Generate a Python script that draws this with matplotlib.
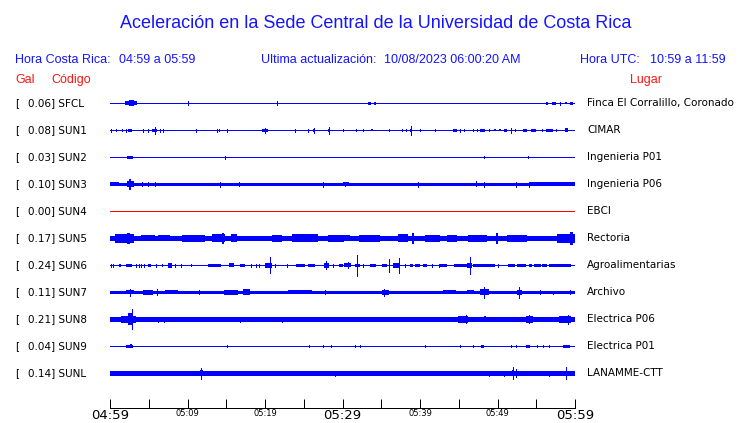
import matplotlib
matplotlib.use("Agg")
import matplotlib.pyplot as plt

# station list (top to bottom)
codes = ["SFCL", "SUN1", "SUN2", "SUN3", "SUN4", "SUN5", "SUN6", "SUN7", "SUN8", "SUN9", "SUNL"]
peak_gal = [0.06, 0.08, 0.03, 0.10, 0.00, 0.17, 0.24, 0.11, 0.21, 0.04, 0.14]
places = ["Finca El Corralillo, Coronado", "CIMAR", "Ingenieria P01", "Ingenieria P06", "EBCI",
          "Rectoria", "Agroalimentarias", "Archivo", "Electrica P06", "Electrica P01", "LANAMME-CTT"]

# background trace half-width (screen px)
base_amp = [0.5, 0.5, 0.5, 1.5, 0.5, 2.3, 0.5, 1.3, 1.7, 0.5, 1.6]

# bursts: (minute after 04:59, duration in minutes, half-amplitude px); duration 0 = single spike
sfcl_ev = [(2.7, 1.5, 2.0), (2.8, 0.6, 3.0), (10.1, 0, 2.0), (21.5, 0, 1.8), (33.5, 0.3, 1.5),
           (34.2, 0.3, 1.5), (56.4, 0.2, 1.3), (57.3, 0.6, 1.5), (58.1, 0, 1.5), (58.8, 0.3, 1.2),
           (59.5, 0.4, 1.5)]
sun1_ev = [(0.1, 0, 1.3), (0.8, 0.15, 1.3), (1.6, 0.15, 1.5), (2.0, 0, 1.3), (2.6, 0.6, 1.7),
           (4.2, 0, 1.3), (4.9, 0, 1.3), (5.8, 0.65, 1.7), (5.8, 0, 3.3), (6.4, 0, 1.3), (6.9, 0, 1.3),
           (11.05, 0, 1.3), (13.8, 0, 1.3), (14.1, 0.15, 1.3), (15.05, 0, 1.3), (20.0, 0.7, 1.7),
           (20.0, 0, 2.7), (23.9, 0, 1.3), (25.5, 0, 1.3), (26.3, 0.2, 1.5), (26.3, 0, 2.7),
           (28.3, 0.3, 1.5), (28.3, 0, 3.3), (30.0, 0, 1.2), (31.8, 0, 1.2), (32.7, 0, 1.2),
           (33.8, 0.3, 1.2), (36.0, 0, 1.2), (37.7, 0, 1.2), (38.15, 0, 1.2), (38.8, 0.2, 1.7),
           (38.8, 0, 4.7), (40.0, 0, 1.2), (42.0, 0.2, 1.5), (44.5, 0.45, 1.7), (45.2, 0, 1.3),
           (45.7, 0.15, 1.3), (46.9, 0, 1.2), (47.3, 0, 1.2), (48.1, 0.7, 1.7), (48.9, 0, 1.2),
           (49.7, 0.2, 1.2), (50.3, 0.2, 1.2), (51.0, 0.35, 1.5), (51.8, 0, 2.7), (52.2, 0, 1.2),
           (53.5, 0.5, 1.5), (54.7, 0.65, 1.5), (55.7, 0, 1.2), (56.7, 1.0, 1.7), (57.6, 0, 1.2),
           (58.9, 0.5, 2.0)]
sun2_ev = [(2.6, 0.8, 1.4), (14.9, 0, 1.3), (48.2, 0, 1.0), (53.9, 0, 1.0)]
sun3_ev = [(0.6, 1.2, 2.0), (2.6, 0.9, 2.8), (2.6, 0.2, 5.3), (4.1, 0, 2.0), (4.9, 0, 2.0),
           (5.8, 0, 2.0), (14.2, 0, 2.3), (16.7, 0.2, 2.5), (27.5, 0, 2.3), (30.3, 0, 2.0),
           (30.5, 0.8, 2.0), (39.7, 0, 2.3), (47.3, 0.2, 3.0), (48.2, 0, 2.5), (52.4, 0, 2.3),
           (54.0, 0, 2.3), (57.0, 6.0, 2.0)]
sun4_ev = []
sun5_ev = [(1.9, 2.4, 4.5), (2.4, 0.3, 5.7), (3.4, 0.6, 2.7), (4.9, 1.7, 3.0), (7.0, 1.5, 3.0),
           (10.75, 3.0, 3.7), (14.0, 1.7, 4.0), (14.6, 0.2, 5.7), (16.0, 0.9, 4.0), (17.8, 1.7, 2.3),
           (21.5, 1.3, 3.3), (25.2, 3.4, 4.0), (29.2, 2.1, 3.3), (30.3, 1.3, 3.0), (33.5, 2.8, 3.3),
           (37.8, 1.3, 4.0), (39.1, 0.3, 5.7), (41.6, 1.9, 3.3), (44.1, 1.3, 3.3), (47.4, 2.4, 3.7),
           (49.9, 0.2, 5.3), (52.5, 2.6, 3.3), (56.0, 0.9, 2.7), (58.9, 2.4, 4.5), (59.6, 0.4, 6.7)]
sun6_ev = [(0.1, 0, 1.3), (0.4, 0, 1.3), (1.3, 0.15, 1.3), (2.4, 0.8, 1.3), (3.3, 0, 1.3),
           (3.7, 0, 1.3), (4.0, 0, 1.3), (4.4, 0, 1.3), (5.1, 0.5, 1.3), (5.9, 0, 1.3),
           (6.75, 0.2, 1.3), (7.7, 0.5, 2.5), (8.4, 0, 1.3), (9.2, 0, 1.3), (10.5, 0.15, 1.3),
           (13.5, 1.7, 1.7), (15.7, 0.7, 2.0), (17.1, 0.6, 1.5), (18.15, 0, 1.3), (18.8, 0, 1.3),
           (19.2, 0, 1.3), (20.4, 0.9, 2.3), (20.7, 0, 8.0), (21.3, 0, 1.3), (22.9, 0, 1.3),
           (24.6, 1.1, 1.5), (26.0, 0.9, 1.5), (27.9, 0.7, 2.7), (27.9, 0, 4.0), (28.8, 0, 1.3),
           (29.8, 0.6, 1.5), (30.7, 0.9, 2.0), (30.7, 0, 3.0), (31.9, 0.7, 1.5), (31.9, 0, 10.5),
           (32.6, 0, 1.3), (33.9, 0.8, 1.5), (35.4, 0.6, 1.5), (36.0, 0, 6.5), (37.0, 0.9, 2.3),
           (37.3, 0, 7.3), (38.0, 0, 1.3), (38.9, 0.4, 1.5), (39.7, 0.6, 1.5), (40.7, 0.5, 1.5),
           (41.6, 0, 1.3), (42.4, 0, 1.3), (43.0, 0.9, 1.5), (45.3, 1.8, 1.7), (46.4, 0.6, 2.7),
           (46.5, 0, 8.3), (48.3, 2.8, 1.7), (50.1, 0, 1.3), (51.8, 0.9, 1.5), (53.1, 1.1, 1.5),
           (54.3, 0.4, 1.5), (55.1, 0.9, 1.5), (56.1, 0.6, 1.5), (58.1, 2.8, 1.7)]
sun7_ev = [(1.0, 1.5, 1.6), (2.6, 1.1, 2.0), (2.6, 0, 3.3), (4.95, 1.3, 2.3), (6.0, 0, 3.0),
           (7.96, 1.7, 2.0), (11.5, 0, 1.8), (15.6, 1.9, 2.3), (17.6, 0.9, 3.0), (24.5, 3.0, 1.8),
           (27.7, 0, 2.0), (35.5, 0.9, 2.3), (35.3, 0, 3.3), (43.8, 1.7, 2.0), (46.5, 0.9, 2.0),
           (48.3, 1.1, 3.0), (48.3, 0, 5.3), (52.8, 0.6, 2.7), (52.8, 0, 5.3), (55.5, 0, 2.0),
           (57.2, 0, 1.7), (59.4, 0, 2.0)]
sun8_ev = [(2.4, 1.9, 3.3), (2.6, 0.6, 6.0), (2.9, 0, 10.0), (6.2, 0, 2.3), (6.97, 0, 2.5),
           (9.7, 0, 2.0), (10.3, 0, 2.0), (10.9, 0, 2.0), (11.4, 0, 2.0), (12.8, 0, 2.0),
           (14.4, 0, 2.2), (16.8, 0, 2.7), (18.5, 0, 2.0), (22.2, 0, 2.3), (25.6, 0.5, 2.7),
           (26.5, 0, 2.0), (27.95, 0, 2.0), (28.6, 0, 2.0), (29.8, 0.4, 2.7), (30.1, 0, 2.0),
           (30.7, 0, 2.0), (31.6, 0, 2.0), (32.5, 0, 2.0), (34.4, 0, 2.0), (35.0, 0, 2.0),
           (37.5, 0.3, 2.3), (39.8, 0, 2.0), (42.5, 0.3, 2.3), (43.5, 0.4, 2.7), (45.6, 1.3, 3.3),
           (45.9, 0, 4.0), (46.2, 0, 2.0), (47.5, 0.3, 2.3), (48.4, 0.3, 3.0), (50.3, 0, 2.0),
           (50.8, 0, 2.0), (52.3, 1.1, 2.7), (54.1, 0.9, 3.3), (54.1, 0, 4.0), (54.8, 0, 2.0),
           (55.7, 0, 2.0), (56.8, 0, 2.0), (57.2, 0, 2.0), (58.7, 1.5, 3.3), (59.1, 0, 4.3)]
sun9_ev = [(2.5, 1.0, 1.3), (2.7, 0.3, 2.0), (15.05, 0, 1.0), (25.7, 0, 1.2), (27.5, 0, 1.0),
           (28.5, 0, 1.2), (31.6, 0, 1.0), (32.2, 0, 1.0), (40.6, 0, 1.0), (45.1, 0, 1.2),
           (46.8, 0, 1.2), (48.1, 0.4, 1.3), (51.8, 0, 1.2), (52.4, 0, 1.0), (53.9, 0.5, 1.3),
           (55.1, 0, 1.0), (55.9, 0, 1.0), (56.6, 0, 1.0), (58.9, 0.9, 1.3)]
sunl_ev = [(2.45, 0.2, 2.4), (4.7, 0, 1.8), (6.9, 0, 1.8), (11.8, 0.3, 3.0), (11.8, 0, 5.7),
           (29.0, 0, 2.3), (48.9, 0, 2.3), (50.9, 0, 2.3), (52.0, 0.2, 3.0), (52.0, 0, 6.0),
           (52.4, 0, 4.0), (56.6, 0, 2.3), (58.9, 0, 6.0)]
events = [sfcl_ev, sun1_ev, sun2_ev, sun3_ev, sun4_ev, sun5_ev, sun6_ev, sun7_ev, sun8_ev, sun9_ev, sunl_ev]

tick_labels = ["04:59", "05:09", "05:19", "05:29", "05:39", "05:49", "05:59"]

W, H = 740, 423
fig = plt.figure(figsize=(W / 100, H / 100), dpi=100)
PX = 0.72  # one pixel in points


def ftext(x, y, s, **kw):
    # place text by pixel coords of the 740x423 canvas
    fig.text(x / W, 1 - y / H, s, **kw)


head = dict(family="Liberation Sans", color="#1414ff", va="center")
ftext(376, 23, "Aceleración en la Sede Central de la Universidad de Costa Rica", fontsize=13, ha="center", **head)
ftext(15, 60, "Hora Costa Rica:", fontsize=9, **head)
ftext(119, 60, "04:59 a 05:59", fontsize=9, **head)
ftext(261, 60, "Ultima actualización:", fontsize=9, **head)
ftext(384, 60, "10/08/2023 06:00:20 AM", fontsize=9, **head)
ftext(580, 60, "Hora UTC:", fontsize=9, **head)
ftext(650, 60, "10:59 a 11:59", fontsize=9, **head)
red = dict(family="Liberation Sans", color="#ff1414", va="center", fontsize=9)
ftext(15, 80, "Gal", **red)
ftext(51, 80, "Código", **red)
ftext(630, 80, "Lugar", **red)

ax = fig.add_axes([110 / W, 15 / H, 465 / W, 318 / H])
ax.set_xlim(0, 60)
ax.set_ylim(408, 90)   # y in screen pixels, top row first

for i, code in enumerate(codes):
    yc = 103.3 + 27 * i
    col = "#ff0000" if peak_gal[i] == 0 else "#0000ff"
    ax.hlines(yc, 0, 60, color=col, lw=2 * base_amp[i] * PX, antialiased=False)
    for t, dur, amp in events[i]:
        if dur == 0:
            ax.vlines(t, yc - amp, yc + amp, color=col, lw=PX, antialiased=False)
        else:
            ax.bar(t, 2 * amp, width=dur, bottom=yc - amp, color=col, lw=0, antialiased=False)
    ftext(15, yc, "[", fontsize=7.5, va="center")
    ftext(27.5, yc, f"{peak_gal[i]:.2f}] {code}", fontsize=7.5, va="center")
    ftext(587, yc, places[i], fontsize=7.5, va="center")

for s in ["top", "left", "right"]:
    ax.spines[s].set_visible(False)
ax.spines["bottom"].set_linewidth(PX)
ax.set_yticks([])
ax.set_xticks(range(0, 61, 5))
ax.set_xticklabels([tick_labels[k // 10] if k % 10 == 0 else "" for k in range(0, 61, 5)])
ax.tick_params(axis="x", direction="in", length=9 * PX, width=PX, pad=0.5)
for k, lab in enumerate(ax.get_xticklabels()):
    lab.set_fontsize(9.5 if k % 6 == 0 else 6)

fig.savefig("out.png", dpi=100)
